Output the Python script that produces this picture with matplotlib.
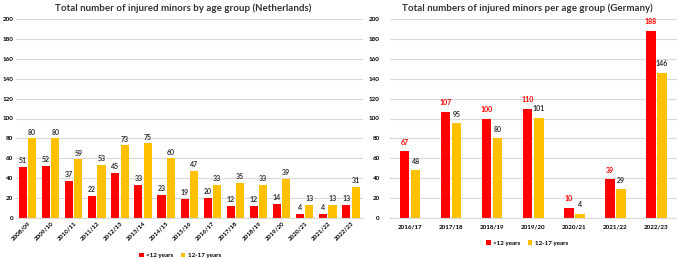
import numpy as np
import matplotlib.pyplot as plt

plt.rcParams['font.family'] = ['Lato', 'DejaVu Sans']
plt.rcParams['font.weight'] = 'bold'

# Netherlands
nl_seasons = ['2008/09', '2009/10', '2010/11', '2011/12', '2012/13', '2013/14', '2014/15',
              '2015/16', '2016/17', '2017/18', '2018/19', '2019/20', '2020/21', '2021/22', '2022/23']
nl_under12 = [51, 52, 37, 22, 45, 33, 23, 19, 20, 12, 12, 14, 4, 4, 13]
nl_12to17 = [80, 80, 59, 53, 73, 75, 60, 47, 33, 35, 33, 39, 13, 13, 31]

# Germany
de_seasons = ['2016/17', '2017/18', '2018/19', '2019/20', '2020/21', '2021/22', '2022/23']
de_under12 = [67, 107, 100, 110, 10, 39, 188]
de_12to17 = [48, 95, 80, 101, 4, 29, 146]

RED = '#FF0000'
YEL = '#FFC000'
W, H = 677, 259

fig = plt.figure(figsize=(W / 100, H / 100), dpi=100)


def setup(ax, n):
    ax.set_xlim(-0.5, n - 0.5)
    ax.set_ylim(0, 200)
    ax.set_yticks(range(0, 201, 20))
    ax.grid(axis='y', color='#D9D9D9', linewidth=0.8)
    ax.set_axisbelow(True)
    for s in ['top', 'right', 'left']:
        ax.spines[s].set_visible(False)
    ax.spines['bottom'].set_color('#D9D9D9')
    ax.tick_params(axis='both', length=0, labelsize=4.5, pad=2)
    for lbl in ax.get_yticklabels():
        lbl.set_fontweight('bold')


# left chart
ax1 = fig.add_axes([16 / W, (H - 218) / H, (362.5 - 16) / W, 199 / H])
n = len(nl_seasons)
x = np.arange(n)
bw, off = 0.35, 0.2
b1 = ax1.bar(x - off, nl_under12, bw, color=RED, label='<12 years')
b2 = ax1.bar(x + off, nl_12to17, bw, color=YEL, label='12-17 years')
setup(ax1, n)
ax1.set_xticks(x)
ax1.set_xticklabels(nl_seasons, rotation=45, ha='right', rotation_mode='anchor',
                    fontsize=4.5, fontweight='bold')
ax1.bar_label(b1, padding=2, fontsize=5, fontweight='bold', color='#333333')
ax1.bar_label(b2, padding=2, fontsize=5, fontweight='bold', color='#333333')
ax1.set_title('Total number of injured minors by age group (Netherlands)',
              fontsize=7, fontweight='bold', color='#333333', pad=6, x=(183 - 16) / (362.5 - 16))
ax1.legend(loc='center', bbox_to_anchor=((180 - 16) / (362.5 - 16), -0.19), ncol=2, frameon=False,
           fontsize=4.5, handlelength=0.7, handleheight=0.7, handletextpad=0.4, columnspacing=1.2)

# right chart
ax2 = fig.add_axes([389.5 / W, (H - 218) / H, (677 - 389.5) / W, 199 / H])
n2 = len(de_seasons)
x2 = np.arange(n2)
bw2, off2 = 0.23, 0.135
c1 = ax2.bar(x2 - off2, de_under12, bw2, color=RED, label='<12 years')
c2 = ax2.bar(x2 + off2, de_12to17, bw2, color=YEL, label='12-17 years')
setup(ax2, n2)
ax2.set_xticks(x2)
ax2.set_xticklabels(de_seasons, fontsize=4.5, fontweight='bold')
ax2.tick_params(axis='x', pad=5)
ax2.tick_params(axis='y', pad=7)
ax2.bar_label(c1, padding=4, fontsize=5, fontweight='bold', color=RED)
ax2.bar_label(c2, padding=4, fontsize=5, fontweight='bold', color='#333333')
ax2.set_title('Total numbers of injured minors per age group (Germany)',
              fontsize=7, fontweight='bold', color='#333333', pad=6, x=(527 - 389.5) / (677 - 389.5))
ax2.legend(loc='center', bbox_to_anchor=((527 - 389.5) / (677 - 389.5), -0.125), ncol=2, frameon=False,
           fontsize=4.5, handlelength=0.7, handleheight=0.7, handletextpad=0.4, columnspacing=1.2)

fig.savefig('out.png', dpi=100)
